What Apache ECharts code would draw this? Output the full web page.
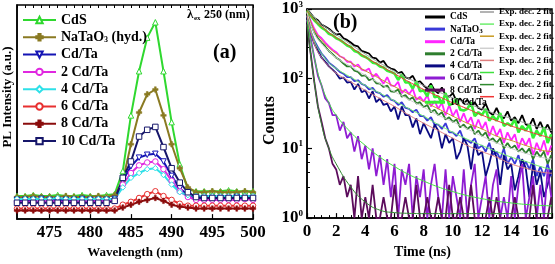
<!DOCTYPE html>
<html>
<head>
<meta charset="utf-8">
<script src="https://cdn.jsdelivr.net/npm/echarts@6/dist/echarts.min.js"></script>
<style>
  html, body { margin: 0; padding: 0; background: #fff; }
  #chart { width: 555px; height: 264px; }
</style>
</head>
<body>
<div id="chart"></div>
<script>
// ---- panel (a): PL spectra, one value per nm ----
const wavelengths = [471,472,473,474,475,476,477,478,479,480,481,482,483,484,485,486,487,488,489,490,491,492,493,494,495,496,497,498,499,500];
const wavelengthTicks = [475, 480, 485, 490, 495, 500];

const plCdS     = [24,24,25,24,24,25,24,24,25,24,24,25, 26,50,108,154,189,205,154,101,57,31, 29,29,29,29,30,29,29,29];
const plNaTaO3  = [23,23,24,23,23,23,24,23,23,23,24,23, 25,40,78,111,130,135,108,78,53,33, 28,28,29,28,28,28,29,28];
const plCdTa    = [20,20,20,21,20,20,20,20,21,20,20,20, 21,40,55,64,67,68,60,45,32,25, 22,22,22,22,22,23,22,22];
const pl2CdTa   = [18,18,18,18,19,18,18,18,18,18,19,18, 19,36,48,56,59,60,52,40,29,23, 20,20,20,20,20,20,21,20];
const pl4CdTa   = [21,21,21,21,21,22,21,21,21,21,21,21, 21,33,43,48,52,53,46,36,28,25, 24,24,24,24,24,24,24,24];
const pl6CdTa   = [11,11,11,11,11,11,11,11,11,11,11,11, 11,15,18,22,26,29,24,20,16,14, 14,14,14,14,14,14,14,14];
const pl8CdTa   = [9,9,9,9,9,9,9,9,9,9,9,9, 9,12,15,18,20,22,19,15,13,12, 11,11,11,11,11,11,11,11];
const pl10CdTa  = [17,17,17,17,17,17,17,17,17,17,17,17, 19,43,60,86,93,96,75,53,38,28, 23,22,22,22,22,22,22,22];

// ---- panel (b): decay curves ----
const timeNs = [0,0.25,0.5,0.75,1,1.25,1.5,1.75,2,2.25,2.5,2.75,3,3.25,3.5,3.75,4,4.25,4.5,4.75,5,5.25,5.5,5.75,6,6.25,6.5,6.75,7,7.25,7.5,7.75,8,8.25,8.5,8.75,9,9.25,9.5,9.75,10,10.25,10.5,10.75,11,11.25,11.5,11.75,12,12.25,12.5,12.75,13,13.25,13.5,13.75,14,14.25,14.5,14.75,15,15.25,15.5,15.75,16,16.25,16.5,16.75];
const timeTicks = [0, 2, 4, 6, 8, 10, 12, 14, 16];

const decayCdS    = [1000,860,740,690,600,560,520,470,430,440,380,360,330,300,290,250,240,230,200,195,170,180,150,140,135,120,125,105,100,110,88,92,80,72,85,68,62,75,58,55,62,48,52,44,50,40,46,38,36,44,33,30,38,29,27,34,25,28,23,30,22,21,27,19,24,18,22,17];
const decayNaTaO3 = [800,480,350,280,230,200,170,155,140,125,118,105,105,92,95,84,80,70,74,64,62,55,58,50,48,42,46,38,37,33,36,29,29,25,28,22,22,19,23,17,17,15,18,13,13,12,14,10,11,9,12,8,9,7,10,6,7.5,6,8,5,6.5,5,7,4,5.5,4,6,4];
const decayCdTa   = [900,680,520,420,380,330,290,260,240,210,200,175,175,150,160,135,130,140,105,118,100,85,105,80,78,90,62,70,60,72,50,55,47,58,40,48,37,45,30,42,29,36,24,32,23,28,19,26,19,24,15,21,15,19,12,17,13,16,10,14,11,14,8,12,9,13,8,11];
const decay2CdTa  = [900,620,460,380,330,290,250,225,200,185,165,150,150,130,125,110,112,95,100,86,85,76,80,66,65,70,55,58,50,54,44,46,39,42,33,36,30,33,26,28,24,26,20,22,19,21,16,18,15,17,13,14,12,14,10,12,10,11,9,10,8.5,10,7,9,7.5,9,6,8];
const decay4CdTa  = [800,450,320,250,200,175,150,135,120,100,104,88,90,70,84,64,68,52,66,46,52,42,44,34,40,26,40,30,30,20,27,16,23,18,14,22,18,10,16,12,14,7,9,14,11,5,12,8,9,4,6,10,7.5,3,8,5,6,2.5,4,7,5.2,2,6,3,4.6,2,3,5];
const decay6CdTa  = [700,380,200,110,80,52,45,30,30,18,24,14,17,9,15,7,11,5,10,4,8,3,7,2,6,1,5,3,6,1,4,2,5,1,3,6,2,1,5,1,4,2,1,5,1,3,6,1,2,4,1,3,5,1,2,1,4,1,3,6,1,2,4,1,3,1,5,2];
const decay8CdTa  = [600,230,90,40,24,14,10,6,5,3,4,2,3,1,4,1,2,1,3,1,1,2,1,1,3,1,1,2,1,1,3,1,1,2,1,1,2,1,1,3,1,1,2,1,1,3,1,1,1,1,2,1,2,1,1,1,1,2,1,1,1,1,3,1,1,1,1,2];
const decay10CdTa = [950,800,690,610,540,500,440,420,380,360,330,300,285,250,240,215,205,190,170,165,150,145,130,125,118,96,115,88,88,72,92,66,68,56,80,54,56,44,62,42,44,52,36,35,37,46,29,33,30,37,25,29,25,32,21,23,21,26,17,21,18,22,14,18,15,20,12,16];

// two-exponential fits, read at these times
const fitTimes = [0,0.5,1,1.5,2,3,4,5,6,7,8,9,10,11,12,13,14,15,16,16.8];
const fitCdS    = [1000,760,610,510,430,310,225,168,128,100,80,65,53,44,37,31,27,23,20,18];
const fitNaTaO3 = [800,350,230,170,140,105,80,62,48,37,29,22,17,13.5,11,9,7.5,6.5,5.5,5];
const fitCdTa   = [900,500,360,280,230,170,130,100,77,60,47,37,29,23,19,15,13,11,9.5,9];
const fit2CdTa  = [900,450,320,250,200,150,112,85,65,50,39,30,24,19,15,12,10,8.5,7.5,7];
const fit4CdTa  = [800,320,200,150,120,90,68,52,40,30,23,18,14,11,9,7.5,6,5.2,4.6,4.4];
const fit6CdTa  = [700,200,80,45,30,17,11,7.5,5.5,4.2,3.4,2.8,2.4,2.1,1.9,1.75,1.65,1.57,1.52,1.5];
const fit8CdTa  = [600,90,22,10,6,2.8,1.7,1.3,1.2,1.17,1.16,1.16,1.16,1.16,1.16,1.16,1.16,1.16,1.16,1.16];
const fit10CdTa = [950,700,560,460,390,285,205,155,118,90,70,56,45,37,30,25,21,18,15.5,14];

const serif = 'Liberation Serif';
const plus = 'path://M2,0H4V2H6V4H4V6H2V4H0V2H2Z';

const plSamples = [
  { name: 'CdS', values: plCdS, color: '#2fd82f', symbol: 'triangle', rotate: 0, open: true },
  { name: 'NaTaO3 (hyd.)', values: plNaTaO3, color: '#8a7a22', symbol: plus, rotate: 0, open: false },
  { name: 'Cd/Ta', values: plCdTa, color: '#1414b4', symbol: 'triangle', rotate: 180, open: true },
  { name: '2 Cd/Ta', values: pl2CdTa, color: '#e028e0', symbol: 'circle', rotate: 0, open: true },
  { name: '4 Cd/Ta', values: pl4CdTa, color: '#2ee0e8', symbol: 'diamond', rotate: 0, open: true },
  { name: '6 Cd/Ta', values: pl6CdTa, color: '#e83030', symbol: 'circle', rotate: 0, open: true },
  { name: '8 Cd/Ta', values: pl8CdTa, color: '#8a0c0c', symbol: plus, rotate: 0, open: false },
  { name: '10 Cd/Ta', values: pl10CdTa, color: '#16166a', symbol: 'rect', rotate: 0, open: true }
];

const decaySamples = [
  { name: 'CdS', values: decayCdS, color: '#000000', width: 1.8, fit: fitCdS, fitColor: '#9a9a9a' },
  { name: 'NaTaO3', values: decayNaTaO3, color: '#3a3ad8', width: 1.8, fit: fitNaTaO3, fitColor: '#6cee6c' },
  { name: 'Cd/Ta', values: decayCdTa, color: '#ff26ff', width: 1.8, fit: fitCdTa, fitColor: '#c89a20' },
  { name: '2 Cd/Ta', values: decay2CdTa, color: '#2e7e2e', width: 1.8, fit: fit2CdTa, fitColor: '#cfcfcf' },
  { name: '4 Cd/Ta', values: decay4CdTa, color: '#0a0a82', width: 1.8, fit: fit4CdTa, fitColor: '#e07e7e' },
  { name: '6 Cd/Ta', values: decay6CdTa, color: '#8e1cd2', width: 1.8, fit: fit6CdTa, fitColor: '#3ee03e' },
  { name: '8 Cd/Ta', values: decay8CdTa, color: '#5c0c5c', width: 1.8, fit: fit8CdTa, fitColor: '#2f8a2f' },
  { name: '10 Cd/Ta', values: decay10CdTa, color: '#36f036', width: 2.6, fit: fit10CdTa, fitColor: '#f03434' }
];

const subRich = {
  sub: { fontSize: 8, fontWeight: 'bold', fontFamily: serif, padding: [6, 0, 0, 0] }
};

const series = [];
plSamples.forEach(s => {
  series.push({
    name: s.name,
    type: 'line',
    xAxisIndex: 0,
    yAxisIndex: 0,
    data: wavelengths.map((w, i) => [w, s.values[i]]),
    symbol: s.symbol,
    symbolRotate: s.rotate,
    symbolSize: 5.5,
    lineStyle: { color: s.color, width: 2 },
    itemStyle: s.open
      ? { color: '#fff', borderColor: s.color, borderWidth: 1 }
      : { color: s.color, borderColor: s.color, borderWidth: 0.5 }
  });
});
decaySamples.forEach(s => {
  series.push({
    name: 'decay:' + s.name,
    type: 'line',
    xAxisIndex: 2,
    yAxisIndex: 1,
    data: timeNs.map((t, i) => [t, s.values[i]]),
    symbol: 'none',
    lineStyle: { color: s.color, width: s.width },
    itemStyle: { color: s.color },
    z: 2
  });
});
decaySamples.forEach(s => {
  series.push({
    name: 'fit:' + s.name,
    type: 'line',
    xAxisIndex: 2,
    yAxisIndex: 1,
    data: fitTimes.map((t, i) => [t, s.fit[i]]),
    symbol: 'none',
    smooth: true,
    lineStyle: { color: s.fitColor, width: 1 },
    itemStyle: { color: s.fitColor },
    z: 3
  });
});

const axisLineStyle = { show: true, lineStyle: { color: '#000', width: 1.5 } };
const tickLabel = { color: '#000', fontFamily: serif, fontWeight: 'bold', fontSize: 17 };
const nameStyle = { color: '#000', fontFamily: serif, fontWeight: 'bold', fontSize: 13 };
const labelText = (text, size) => ({ text: text, fontSize: size, fontWeight: 'bold', fontFamily: serif, fill: '#000' });

const option = {
  animation: false,
  backgroundColor: '#fff',
  grid: [
    { left: 15, top: 5, width: 238, height: 223, show: true, borderColor: '#000', borderWidth: 1.5 },
    { left: 307, top: 8, width: 245, height: 215, show: true, borderColor: '#000', borderWidth: 1.5 }
  ],
  xAxis: [
    {
      gridIndex: 0, type: 'value', min: 471, max: 500,
      axisLine: axisLineStyle,
      axisTick: { show: true, inside: true, length: 5, customValues: wavelengthTicks, lineStyle: { color: '#000', width: 1.2 } },
      axisLabel: Object.assign({ customValues: wavelengthTicks, margin: 5 }, tickLabel),
      splitLine: { show: false },
      name: 'Wavelength (nm)', nameLocation: 'middle', nameGap: 23,
      nameTextStyle: nameStyle
    },
    {
      gridIndex: 0, type: 'value', min: 471, max: 500,
      axisLine: { show: false },
      axisTick: { show: true, inside: true, length: 3, customValues: wavelengths, lineStyle: { color: '#000', width: 1 } },
      axisLabel: { show: false },
      splitLine: { show: false }
    },
    {
      gridIndex: 1, type: 'value', min: 0, max: 16.8, interval: 2,
      axisLine: axisLineStyle,
      axisTick: { show: true, inside: true, length: 5, lineStyle: { color: '#000', width: 1.2 } },
      minorTick: { show: true, splitNumber: 4, length: 3, lineStyle: { color: '#000', width: 1 } },
      axisLabel: Object.assign({ customValues: timeTicks, margin: 5 }, tickLabel),
      splitLine: { show: false },
      name: 'Time (ns)', nameLocation: 'middle', nameGap: 21,
      nameTextStyle: Object.assign({}, nameStyle, { fontSize: 14, padding: [0, 14, 0, 0] })
    }
  ],
  yAxis: [
    {
      gridIndex: 0, type: 'value', min: 0, max: 223,
      axisLine: axisLineStyle,
      axisTick: { show: false },
      axisLabel: { show: false },
      splitLine: { show: false },
      name: 'PL Intensity (a.u.)', nameLocation: 'middle', nameGap: 3,
      nameTextStyle: Object.assign({}, nameStyle, { padding: [0, 0, 0, 30] })
    },
    {
      gridIndex: 1, type: 'log', logBase: 10, min: 1, max: 1000,
      axisLine: axisLineStyle,
      axisTick: { show: true, inside: true, length: 5, lineStyle: { color: '#000', width: 1.2 } },
      minorTick: { show: true, splitNumber: 5, length: 3, lineStyle: { color: '#000', width: 1 } },
      axisLabel: Object.assign({
        margin: 4,
        formatter: v => '10{sup|' + Math.round(Math.log10(v)) + '}',
        rich: { sup: { fontSize: 9, fontWeight: 'bold', fontFamily: serif, padding: [0, 0, 9, 0] } }
      }, tickLabel),
      splitLine: { show: false },
      name: 'Counts', nameLocation: 'middle', nameGap: 22,
      nameTextStyle: Object.assign({}, nameStyle, { fontSize: 16, padding: [0, 14, 0, 0] })
    }
  ],
  legend: [
    {
      data: plSamples.map(s => s.name),
      orient: 'vertical', left: 17, top: 8,
      itemWidth: 33, itemHeight: 8, itemGap: 3.3,
      selectedMode: false,
      formatter: n => n === 'NaTaO3 (hyd.)' ? 'NaTaO{sub|3} (hyd.)' : n,
      textStyle: { color: '#000', fontFamily: serif, fontWeight: 'bold', fontSize: 14, lineHeight: 14, rich: subRich }
    },
    {
      data: decaySamples.map(s => 'decay:' + s.name),
      orient: 'vertical', left: 420, top: 7,
      icon: 'rect', itemWidth: 20, itemHeight: 3, itemGap: 2.1,
      selectedMode: false,
      formatter: n => n === 'decay:NaTaO3' ? 'NaTaO{sub|3}' : n.replace('decay:', ''),
      textStyle: { color: '#000', fontFamily: serif, fontWeight: 'bold', fontSize: 9.5, lineHeight: 10,
        rich: { sub: { fontSize: 7, fontWeight: 'bold', fontFamily: serif, padding: [4, 0, 0, 0] } } }
    },
    {
      data: decaySamples.map(s => 'fit:' + s.name),
      orient: 'vertical', right: 1, top: 7, padding: 0,
      icon: 'rect', itemWidth: 14, itemHeight: 1.5, itemGap: 2.1,
      selectedMode: false,
      formatter: () => 'Exp. dec. 2 fit.',
      textStyle: { color: '#000', fontFamily: serif, fontWeight: 'bold', fontSize: 9, lineHeight: 10 }
    }
  ],
  graphic: [
    { type: 'text', x: 187, y: 8, style: labelText('λ', 13) },
    { type: 'text', x: 194, y: 15, style: labelText('ex', 7) },
    { type: 'text', x: 204, y: 9, style: labelText('250 (nm)', 12) },
    { type: 'text', x: 213, y: 43, style: labelText('(a)', 20) },
    { type: 'text', x: 333, y: 13, style: labelText('(b)', 20) }
  ],
  series: series
};

const myChart = echarts.init(document.getElementById('chart'));
myChart.setOption(option);
</script>
</body>
</html>
